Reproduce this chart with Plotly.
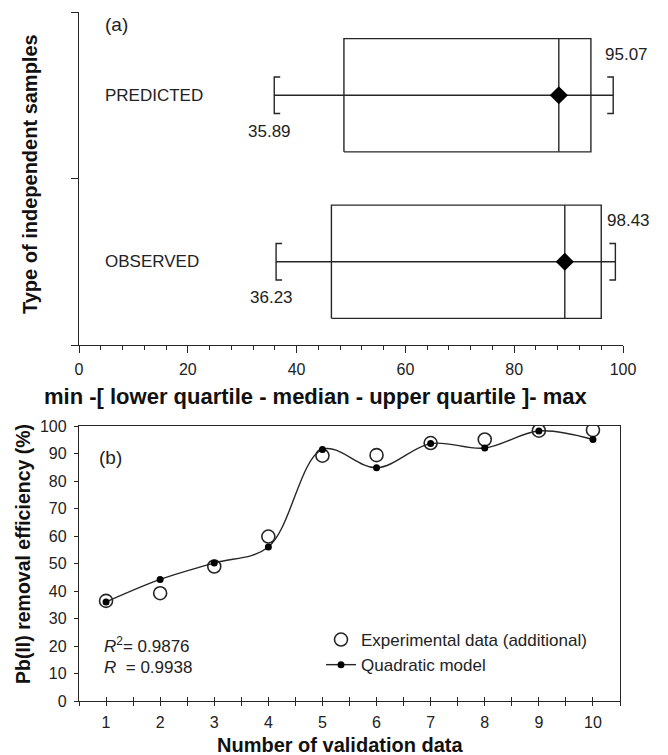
import plotly.graph_objects as go

# ---------------- data ----------------
categories = ["OBSERVED", "PREDICTED"]
box_min = [36.23, 35.89]
box_q1 = [46.4, 48.7]
box_median = [89.3, 88.2]
box_q3 = [96.0, 94.1]
box_max = [98.6, 98.2]
min_labels = ["36.23", "35.89"]
max_labels = ["98.43", "95.07"]

validation_n = [1, 2, 3, 4, 5, 6, 7, 8, 9, 10]
experimental = [36.4, 39.2, 48.9, 59.8, 89.2, 89.4, 93.8, 95.1, 98.3, 98.5]
quadratic = [36.0, 44.2, 50.2, 56.0, 91.5, 84.8, 93.6, 92.0, 98.2, 95.1]

# ---------------- style ----------------
W, H = 668, 755
OFF = 8  # page body margin offset
FONT = "Arial, 'Liberation Sans', sans-serif"
INK = "#262626"
LW = 1.4
BOX_HALF = 0.34
CAP_HALF = 0.11
CAP_STUB = 1.1


def px_x(p):
    return (p - OFF) / W


def px_y(p):
    return (H - (p - OFF)) / H


fig = go.Figure()

# ---------------- panel (a): box summaries ----------------
for i, cat in enumerate(categories):
    lo, hi = i - BOX_HALF, i + BOX_HALF
    q1, q3, med, mn, mx = box_q1[i], box_q3[i], box_median[i], box_min[i], box_max[i]
    line = dict(color=INK, width=LW)
    fig.add_trace(go.Scatter(x=[q1, q3, q3, q1, q1], y=[lo, lo, hi, hi, lo], mode="lines",
                             line=line, xaxis="x", yaxis="y", showlegend=False, hoverinfo="skip"))
    fig.add_trace(go.Scatter(x=[med, med], y=[lo, hi], mode="lines", line=line,
                             xaxis="x", yaxis="y", showlegend=False, hoverinfo="skip"))
    fig.add_trace(go.Scatter(x=[mn, mx], y=[i, i], mode="lines", line=line,
                             xaxis="x", yaxis="y", showlegend=False, hoverinfo="skip"))
    fig.add_trace(go.Scatter(x=[mn + CAP_STUB, mn, mn, mn + CAP_STUB],
                             y=[i + CAP_HALF, i + CAP_HALF, i - CAP_HALF, i - CAP_HALF],
                             mode="lines", line=line, xaxis="x", yaxis="y",
                             showlegend=False, hoverinfo="skip"))
    fig.add_trace(go.Scatter(x=[mx - CAP_STUB, mx, mx, mx - CAP_STUB],
                             y=[i + CAP_HALF, i + CAP_HALF, i - CAP_HALF, i - CAP_HALF],
                             mode="lines", line=line, xaxis="x", yaxis="y",
                             showlegend=False, hoverinfo="skip"))
    fig.add_trace(go.Scatter(x=[med], y=[i], mode="markers",
                             marker=dict(symbol="diamond", size=14, color="black"),
                             xaxis="x", yaxis="y", showlegend=False, hoverinfo="skip"))

annotations = []
for i, cat in enumerate(categories):
    annotations.append(dict(x=4.4, y=i, xref="x", yref="y", text=cat, showarrow=False,
                            xanchor="left", yanchor="middle", font=dict(size=17, color="#222")))
    annotations.append(dict(x=box_min[i], y=i, xref="x", yref="y", text=min_labels[i],
                            showarrow=False, xanchor="center", yanchor="middle",
                            xshift=-5, yshift=-36, font=dict(size=17, color="#222")))
    annotations.append(dict(x=box_max[i], y=i, xref="x", yref="y", text=max_labels[i],
                            showarrow=False, xanchor="left", yanchor="middle",
                            xshift=-10, yshift=41, font=dict(size=17, color="#222")))

annotations.append(dict(x=px_x(103), y=px_y(25), xref="paper", yref="paper", text="(a)",
                        showarrow=False, xanchor="left", yanchor="middle",
                        font=dict(size=19, color="#222")))

# ---------------- panel (b): validation ----------------
fig.add_trace(go.Scatter(x=validation_n, y=experimental, mode="markers",
                         name="Experimental data (additional)",
                         marker=dict(symbol="circle-open", size=13, color=INK, line=dict(width=1.6)),
                         xaxis="x2", yaxis="y2"))
fig.add_trace(go.Scatter(x=validation_n, y=quadratic, mode="lines+markers",
                         name="Quadratic model",
                         line=dict(color=INK, width=1.4, shape="spline", smoothing=1.0),
                         marker=dict(symbol="circle", size=7, color="black"),
                         xaxis="x2", yaxis="y2"))
fig.add_trace(go.Scatter(x=[None], y=[None], xaxis="x3", yaxis="y2", showlegend=False,
                         hoverinfo="skip", mode="markers"))

annotations.append(dict(x=px_x(97), y=px_y(457), xref="paper", yref="paper", text="(b)",
                        showarrow=False, xanchor="left", yanchor="middle",
                        font=dict(size=19, color="#222")))
annotations.append(dict(x=px_x(102), y=px_y(645), xref="paper", yref="paper",
                        text="<i>R</i><sup>2</sup>= 0.9876", showarrow=False,
                        xanchor="left", yanchor="middle", font=dict(size=17, color="#222")))
annotations.append(dict(x=px_x(102), y=px_y(667), xref="paper", yref="paper",
                        text="<i>R</i>  = 0.9938", showarrow=False,
                        xanchor="left", yanchor="middle", font=dict(size=17, color="#222")))

title_font = dict(size=20, color="#111", family=FONT)
annotations.append(dict(x=px_x(30), y=px_y(174), xref="paper", yref="paper",
                        text="<b>Type of independent samples</b>", textangle=-90, showarrow=False,
                        xanchor="center", yanchor="middle", font=title_font))
annotations.append(dict(x=px_x(316), y=px_y(396), xref="paper", yref="paper",
                        text="<b>min -[ lower quartile - median - upper quartile ]- max</b>",
                        showarrow=False, xanchor="center", yanchor="middle",
                        font=dict(size=22, color="#111", family=FONT)))
annotations.append(dict(x=px_x(23), y=px_y(554), xref="paper", yref="paper",
                        text="<b>Pb(II) removal efficiency (%)</b>", textangle=-90, showarrow=False,
                        xanchor="center", yanchor="middle",
                        font=dict(size=19.5, color="#111", family=FONT)))
annotations.append(dict(x=px_x(340), y=px_y(745), xref="paper", yref="paper",
                        text="<b>Number of validation data</b>",
                        showarrow=False, xanchor="center", yanchor="middle", font=title_font))

tick_font = dict(size=16, color="#222", family=FONT)

fig.update_layout(
    width=W, height=H,
    margin=dict(l=0, r=0, t=0, b=0, pad=0, autoexpand=False),
    paper_bgcolor="white", plot_bgcolor="white",
    font=dict(family=FONT, color="#222"),
    annotations=annotations,
    showlegend=True,
    legend=dict(x=px_x(321), y=px_y(622), xanchor="left", yanchor="top",
                bgcolor="rgba(0,0,0,0)", font=dict(size=17, color="#222"),
                tracegroupgap=0, itemwidth=30),
    xaxis=dict(domain=[px_x(79), px_x(623)], anchor="y", range=[0, 100], automargin=False,
               showgrid=False, zeroline=False, showline=True, linecolor=INK, linewidth=LW,
               ticks="outside", ticklen=7, tickcolor=INK, tickwidth=LW,
               tick0=0, dtick=20, tickfont=tick_font, ticklabelstandoff=3,
               minor=dict(ticks="outside", ticklen=4, tickcolor=INK, tickwidth=LW,
                          tick0=0, dtick=4, showgrid=False)),
    yaxis=dict(domain=[px_y(345), px_y(12)], anchor="x", range=[-0.5, 1.5], automargin=False,
               showgrid=False, zeroline=False, showline=True, linecolor=INK, linewidth=LW,
               ticks="outside", ticklen=7, tickcolor=INK, tickwidth=LW,
               tickvals=[-0.5, 0.5, 1.5], showticklabels=False),
    xaxis2=dict(domain=[px_x(79), px_x(620)], anchor="y2", range=[0.5, 10.5], automargin=False,
                showgrid=False, zeroline=False, showline=True, mirror=True,
                linecolor=INK, linewidth=LW,
                ticks="outside", ticklen=4, tickcolor=INK, tickwidth=LW,
                tick0=1, dtick=1, tickfont=tick_font, ticklabelstandoff=3,
                minor=dict(ticks="outside", ticklen=4, tickcolor=INK, tickwidth=LW,
                           tick0=0.5, dtick=0.5, showgrid=False)),
    xaxis3=dict(domain=[px_x(79), px_x(620)], anchor="y2", overlaying="x2", range=[0.5, 10.5],
                automargin=False,
                showgrid=False, zeroline=False, showline=False,
                ticks="inside", ticklen=4, tickcolor=INK, tickwidth=LW,
                tick0=0.5, dtick=0.5, showticklabels=False),
    yaxis2=dict(domain=[px_y(701), px_y(426)], anchor="x2", range=[0, 100], automargin=False,
                showgrid=False, zeroline=False, showline=True, mirror=True,
                linecolor=INK, linewidth=LW,
                ticks="outside", ticklen=4, tickcolor=INK, tickwidth=LW,
                tick0=0, dtick=10, tickfont=tick_font, ticklabelstandoff=4),
)

fig.write_html("out.html")
